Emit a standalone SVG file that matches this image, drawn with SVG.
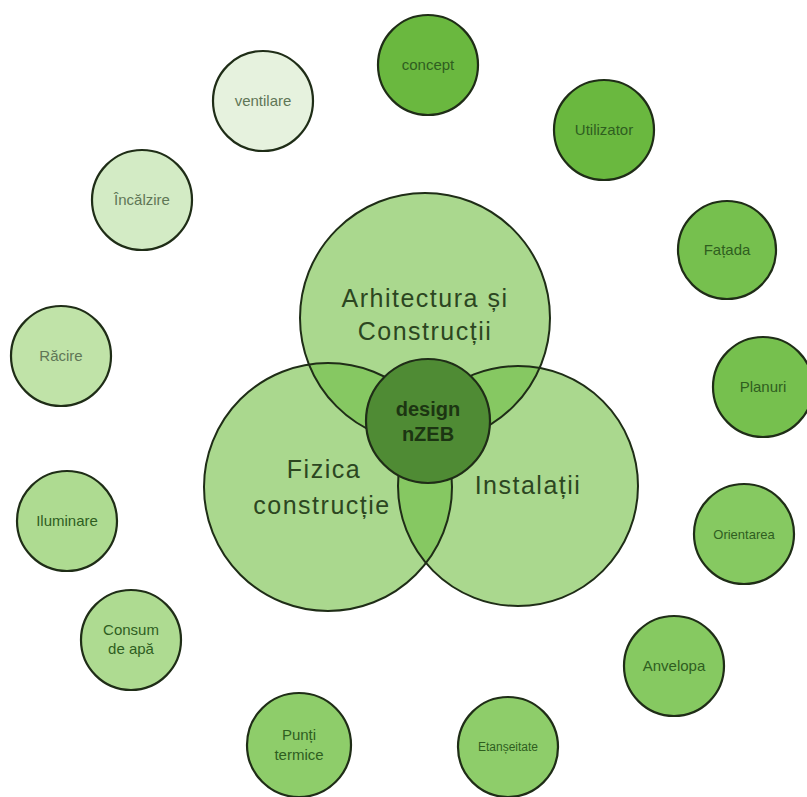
<svg xmlns="http://www.w3.org/2000/svg" width="807" height="797" viewBox="0 0 807 797">
<style>
.c{stroke:#1f2d17;stroke-width:2.2}
.o{fill:none;stroke:#1f2d17;stroke-width:2}
.s{font-family:"Liberation Sans",Arial,sans-serif;font-size:15px;fill:#2f5e1f;text-anchor:middle}
.p{fill:#5f7656}
.b{font-family:"Liberation Sans",Arial,sans-serif;font-size:25px;letter-spacing:1.5px;fill:#2c4621;text-anchor:middle}
.d{font-family:"Liberation Sans",Arial,sans-serif;font-size:20px;font-weight:bold;fill:#1c3512;text-anchor:middle}
</style>
<defs>
<clipPath id="cT"><circle cx="425" cy="318" r="125"/></clipPath>
<clipPath id="cL"><circle cx="328" cy="487" r="124"/></clipPath>
</defs>
<rect width="807" height="797" fill="#ffffff"/>

<g id="concept"><circle class="c" cx="428" cy="65" r="50" fill="#6ab83f"/><text class="s" x="428" y="70">concept</text></g>
<g id="utilizator"><circle class="c" cx="604" cy="130" r="50" fill="#6ab83f"/><text class="s" x="604" y="135">Utilizator</text></g>
<g id="fatada"><circle class="c" cx="727" cy="250" r="49" fill="#76c04e"/><text class="s" x="727" y="255">Fațada</text></g>
<g id="planuri"><circle class="c" cx="763" cy="387" r="50" fill="#76c04e"/><text class="s" x="763" y="392">Planuri</text></g>
<g id="orientarea"><circle class="c" cx="744" cy="534" r="50" fill="#86c961"/><text class="s" x="744" y="539" style="font-size:13px">Orientarea</text></g>
<g id="anvelopa"><circle class="c" cx="674" cy="666" r="50" fill="#86c961"/><text class="s" x="674" y="671">Anvelopa</text></g>
<g id="etanseitate"><circle class="c" cx="508" cy="747" r="50" fill="#8ecd6a"/><text class="s" x="508" y="751" style="font-size:12px">Etanșeitate</text></g>
<g id="punti"><circle class="c" cx="299" cy="745" r="52" fill="#8ecd6a"/><text class="s" x="299" y="740">Punți</text><text class="s" x="299" y="760">termice</text></g>
<g id="consum"><circle class="c" cx="131" cy="640" r="50" fill="#aedb91"/><text class="s" x="131" y="635">Consum</text><text class="s" x="131" y="654">de apă</text></g>
<g id="iluminare"><circle class="c" cx="67" cy="521" r="50" fill="#aedb91"/><text class="s" x="67" y="526">Iluminare</text></g>
<g id="racire"><circle class="c" cx="61" cy="356" r="50" fill="#c0e3a8"/><text class="s p" x="61" y="361">Răcire</text></g>
<g id="incalzire"><circle class="c" cx="142" cy="200" r="50" fill="#d3ebc5"/><text class="s p" x="142" y="205">Încălzire</text></g>
<g id="ventilare"><circle class="c" cx="263" cy="101" r="50" fill="#e6f2de"/><text class="s p" x="263" y="106">ventilare</text></g>

<g id="arhitectura"><circle cx="425" cy="318" r="125" fill="#aad88e"/></g>
<g id="fizica"><circle cx="328" cy="487" r="124" fill="#aad88e"/></g>
<g id="instalatii"><circle cx="518" cy="486" r="120" fill="#aad88e"/></g>
<g id="overlaps">
<circle cx="328" cy="487" r="124" fill="#86c862" clip-path="url(#cT)"/>
<circle cx="518" cy="486" r="120" fill="#86c862" clip-path="url(#cT)"/>
<circle cx="518" cy="486" r="120" fill="#86c862" clip-path="url(#cL)"/>
</g>
<g id="outlines">
<circle class="o" cx="425" cy="318" r="125"/>
<circle class="o" cx="328" cy="487" r="124"/>
<circle class="o" cx="518" cy="486" r="120"/>
</g>
<g id="labels">
<text class="b" x="425" y="307">Arhitectura și</text>
<text class="b" x="425" y="340">Construcții</text>
<text class="b" x="324" y="478">Fizica</text>
<text class="b" x="322" y="514">construcție</text>
<text class="b" x="528" y="494">Instalații</text>
</g>
<g id="design-nzeb"><circle class="c" cx="428" cy="421" r="62" fill="#4f8b34"/><text class="d" x="428" y="416">design</text><text class="d" x="428" y="441">nZEB</text></g>
</svg>
